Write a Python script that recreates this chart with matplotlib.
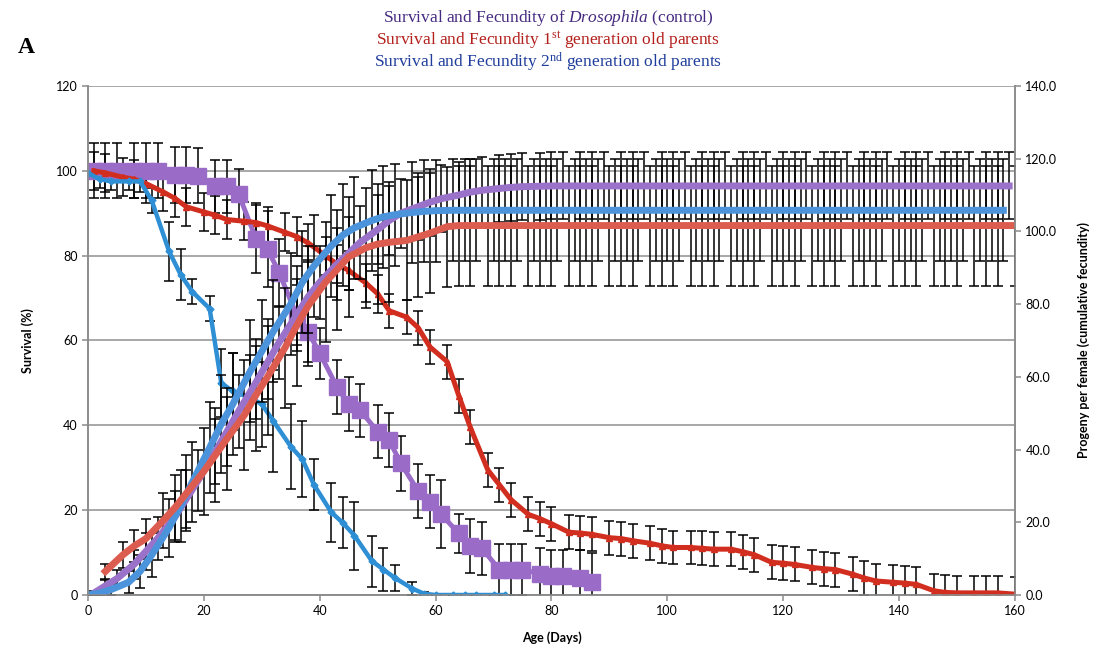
import numpy as np
import matplotlib
matplotlib.use('Agg')
import matplotlib.pyplot as plt

plt.rcParams['font.family'] = ['Lato', 'DejaVu Sans']
plt.rcParams['mathtext.fontset'] = 'custom'
plt.rcParams['mathtext.rm'] = 'Liberation Serif'
plt.rcParams['mathtext.it'] = 'Liberation Serif:italic'

# sampling days for each cohort (three checks per week)
control_days = [1, 3, 5, 8, 10, 12, 15, 17, 19, 22, 24, 26, 29, 31, 33, 36, 38, 40, 43, 45, 47,
                50, 52, 54, 57, 59, 61, 64, 66, 68, 71, 73, 75, 78, 80, 82, 85, 87, 89, 92, 94,
                96, 99, 101, 103, 106, 108, 110, 113, 115, 117, 120, 122, 124, 127, 129, 131,
                134, 136, 138, 141, 143, 145, 148, 150, 152, 155, 157, 159]
gen1_days = [1, 3, 6, 8, 10, 13, 15, 17, 20, 22, 24, 27, 29, 31, 34, 36, 38, 41, 43, 45, 48, 50,
             52, 55, 57, 59, 62, 64, 66, 69, 71, 73, 76, 78, 80, 83, 85, 87, 90, 92, 94, 97, 99,
             101, 104, 106, 108, 111, 113, 115, 118, 120, 122, 125, 127, 129, 132, 134, 136,
             139, 141, 143, 146, 148, 150, 153, 155, 157, 160]
gen2_days = [0, 2, 4, 7, 9, 11, 14, 16, 18, 21, 23, 25, 28, 30, 32, 35, 37, 39, 42, 44, 46, 49,
             51, 53, 56, 58, 60, 63, 65, 67, 70, 72, 74, 77, 79, 81, 84, 86, 88, 91, 93, 95, 98,
             100, 102, 105, 107, 109, 112, 114, 116, 119, 121, 123, 126, 128, 130, 133, 135,
             137, 140, 142, 144, 147, 149, 151, 154, 156, 158]

# survival (%), left axis
control_surv = [100, 100, 100, 100, 100, 100, 99, 99, 98.8, 96.3, 96.3, 94.5, 84, 81.5, 76, 66,
                62, 57, 49, 45, 43.5, 38.5, 36.5, 31, 24.5, 22, 19, 14.5, 11.5, 11, 6, 6, 6, 5,
                4.5, 4.5, 4, 3]
control_surv_err = [6.5, 6.5, 6.5, 6.5, 6.5, 6.5, 6.5, 6.5, 6.5, 6.3, 6.3, 6, 8, 9, 8, 7, 7, 6,
                    6.3, 6.3, 6.3, 6.3, 6.3, 6.5, 6.3, 6.3, 8, 4.5, 6.3, 6.3, 6, 6, 6, 6, 6, 6,
                    6.5, 7]
gen1_surv = [100, 99.5, 98.5, 98, 97, 95, 93.5, 91.5, 90.3, 89.5, 88.5, 88.1, 87.8, 87, 85.5,
             84.5, 83, 80, 78, 76.5, 73.5, 71, 67, 65.5, 63, 58.5, 55, 47, 39.5, 29.5, 26, 22.5,
             19, 18, 16.8, 14.8, 14.6, 14.3, 13.5, 13.3, 12.8, 12.2, 11.6, 11.2, 11.2, 11, 10.8,
             10.8, 10.2, 9.5, 7.7, 7.5, 7.2, 6.5, 6.2, 6, 4.9, 4, 3.3, 3, 2.8, 2.5, 1, 0.6, 0.5,
             0.5, 0.5, 0.5, 0.2]
gen1_surv_err = [4.5, 4.5, 4.5, 4.5, 4.5, 4.5, 4.5, 4.5, 4.5, 4.5, 4.5, 4.5, 4.5, 4.5, 4.5, 4.5,
                 4.5, 4.5, 4.5, 4.5, 4.5, 4.5, 4, 4, 4, 4, 4, 4, 4, 4, 4, 4, 4, 4, 4, 4, 4, 4, 4,
                 4, 4, 4, 4, 4, 4, 4, 4, 4, 4, 4, 4, 4, 4, 4, 4, 4, 4, 4, 4, 4, 4, 4, 4, 4, 4, 4,
                 4, 4, 4]
gen2_surv = [99.5, 98, 97.5, 97.5, 97.5, 93, 81, 75.5, 71.5, 67.5, 50, 48, 46.5, 45, 41, 35, 32,
             26, 19.5, 17, 14, 8, 6, 4, 1.5, 0.3, 0, 0, 0, 0, 0, 0]
gen2_surv_err = [1.5, 2, 2, 2, 2.5, 3, 7, 6, 3, 3, 8, 9, 10, 10, 12, 10, 9, 6, 7, 6, 8, 6, 5, 3,
                 1.5, 0.5, 0, 0, 0, 0, 0, 0]

# cumulative progeny per female, right axis
control_fec = [0.5, 2.5, 4.5, 8.5, 12, 15.5, 21.5, 26.5, 31.5, 39.5, 45, 50.5, 58.5, 64, 69.5,
               77, 82, 86, 91, 94, 97, 100.5, 103, 105, 106.8, 108, 109, 110, 110.8,
               111.3, 111.8, 112.1, 112.3, 112.4, 112.5, 112.5, 112.5, 112.5, 112.5, 112.5,
               112.5, 112.5, 112.5, 112.5, 112.5, 112.5, 112.5, 112.5, 112.5, 112.5, 112.5,
               112.5, 112.5, 112.5, 112.5, 112.5, 112.5, 112.5, 112.5, 112.5, 112.5, 112.5,
               112.5, 112.5, 112.5, 112.5, 112.5, 112.5, 112.5]
control_fec_err = [0.5, 1.5, 2.5, 4, 5, 6, 7, 8, 8.5, 9, 9.5, 10, 10, 10, 10, 10, 10, 10, 10, 10,
                   10, 9.5, 9.5, 9.5, 9.2, 9.2, 9.2, 9.2, 9.2, 9.2, 9.2, 9.2, 9.2, 9.2, 9.2, 9.2,
                   9.2, 9.2, 9.2, 9.2, 9.2, 9.2, 9.2, 9.2, 9.2, 9.2, 9.2, 9.2, 9.2, 9.2, 9.2,
                   9.2, 9.2, 9.2, 9.2, 9.2, 9.2, 9.2, 9.2, 9.2, 9.2, 9.2, 9.2, 9.2, 9.2, 9.2,
                   9.2, 9.2, 9.2]
gen1_fec = [np.nan, 6.5, 11, 13.5, 15.5, 20.5, 24, 28, 34, 38.5, 43, 49.5, 55, 60, 68, 74, 79.5,
            86, 89.5, 93, 95.5, 96.5, 97, 97.5, 98.5, 99.5, 101.3, 101.6, 101.6, 101.6, 101.6,
            101.6, 101.6, 101.6, 101.6, 101.6, 101.6, 101.6, 101.6, 101.6, 101.6, 101.6, 101.6,
            101.6, 101.6, 101.6, 101.6, 101.6, 101.6, 101.6, 101.6, 101.6, 101.6, 101.6, 101.6,
            101.6, 101.6, 101.6, 101.6, 101.6, 101.6, 101.6, 101.6, 101.6, 101.6, 101.6, 101.6,
            101.6, 101.6]
gen1_fec_err = [np.nan, 2, 3.5, 4.5, 5.5, 7.5, 9, 10.5, 12, 13, 14, 15, 15.5, 16, 16.5, 16.5,
                16.5, 16.5, 16.5, 16.5, 16.5, 16.5, 16.5, 16.5, 16.5, 16.5, 16.5, 16.5, 16.5,
                16.5, 16.5, 16.5, 16.5, 16.5, 16.5, 16.5, 16.5, 16.5, 16.5, 16.5, 16.5, 16.5,
                16.5, 16.5, 16.5, 16.5, 16.5, 16.5, 16.5, 16.5, 16.5, 16.5, 16.5, 16.5, 16.5,
                16.5, 16.5, 16.5, 16.5, 16.5, 16.5, 16.5, 16.5, 16.5, 16.5, 16.5, 16.5, 16.5,
                16.5]
gen2_fec = [0, 0.5, 1.5, 3.5, 6.5, 11, 18.5, 24.5, 31, 40.5, 47, 52.5, 61.5, 67, 72.5, 80, 86,
            90.5, 96, 99, 101, 103, 104, 104.6, 105.2, 105.5, 105.7, 105.8, 105.8, 105.8, 105.8,
            105.8, 105.8, 105.8, 105.8, 105.8, 105.8, 105.8, 105.8, 105.8, 105.8, 105.8, 105.8,
            105.8, 105.8, 105.8, 105.8, 105.8, 105.8, 105.8, 105.8, 105.8, 105.8, 105.8, 105.8,
            105.8, 105.8, 105.8, 105.8, 105.8, 105.8, 105.8, 105.8, 105.8, 105.8, 105.8, 105.8,
            105.8, 105.8]
gen2_fec_err = [0, 0.5, 1.5, 3, 4.5, 6, 8, 10, 11, 12.5, 13.5, 14, 14, 14, 14, 14, 14, 14, 14, 14,
                14, 14, 14, 14, 14, 14, 14, 14, 14, 14, 14, 14, 14, 14, 14, 14, 14, 14, 14, 14,
                14, 14, 14, 14, 14, 14, 14, 14, 14, 14, 14, 14, 14, 14, 14, 14, 14, 14, 14, 14,
                14, 14, 14, 14, 14, 14, 14, 14, 14]

purple_fec, blue_fec, red_fec = '#9a72c9', '#4b93db', '#dc5d50'
purple, blue, red = '#9a6cc8', '#2f8fd5', '#d22e20'

fig = plt.figure(figsize=(10.97, 6.56), dpi=100)
ax = fig.add_axes([0.0802, 0.093, 0.845, 0.776])
ax2 = ax.twinx()

eb = dict(ecolor='black', elinewidth=1.1, capsize=3.6, capthick=1.1)

# survival curves
ax.errorbar(control_days[:len(control_surv)], control_surv, yerr=control_surv_err,
            color=purple, lw=3.5, marker='s', ms=11, mec=purple, zorder=3, **eb)
ax.errorbar(gen1_days, gen1_surv, yerr=gen1_surv_err, color=red, lw=3.6,
            marker='^', ms=4, zorder=3, **eb)
ax.errorbar(gen2_days[:len(gen2_surv)], gen2_surv, yerr=gen2_surv_err, color=blue, lw=3.2,
            marker='D', ms=3.5, zorder=3, **eb)

# cumulative fecundity
ax2.errorbar(control_days, control_fec, yerr=control_fec_err, color=purple_fec, lw=5, **eb)
ax2.errorbar(gen2_days, gen2_fec, yerr=gen2_fec_err, color=blue_fec, lw=5, **eb)
ax2.errorbar(gen1_days, gen1_fec, yerr=gen1_fec_err, color=red_fec, lw=5, **eb)

ax.set_xlim(0, 160)
ax.set_ylim(0, 120)
ax2.set_ylim(0, 140)
ax.set_xticks(range(0, 161, 20))
ax.set_yticks(range(0, 121, 20))
ax2.set_yticks(range(0, 141, 20))
ax2.set_yticklabels([f'{v:.1f}' for v in range(0, 141, 20)])

ax.yaxis.grid(True, color='#a0a0a0', lw=1.3)
ax.set_axisbelow(True)
for a in (ax, ax2):
    for s in ('left', 'right', 'bottom'):
        a.spines[s].set_color('#8c8c8c')
        a.spines[s].set_linewidth(1.2)
    a.spines['top'].set_visible(False)
    a.tick_params(colors='#8c8c8c', length=4, width=1.1, labelsize=9, labelcolor='black')

ax.set_ylabel('Survival (%)', fontsize=9, fontweight='bold', labelpad=16)
ax2.set_ylabel('Progeny per female (cumulative fecundity)', fontsize=9, fontweight='bold',
               labelpad=14)
ax.set_xlabel('Age (Days)', fontsize=9, fontweight='bold', labelpad=10)

serif = 'Liberation Serif'
fig.text(0.4995, 0.972, r'Survival and Fecundity of $\mathit{Drosophila}$ (control)',
         ha='center', va='center', fontsize=12.5, family=serif, color='#452a80')
fig.text(0.4995, 0.939, r'Survival and Fecundity 1$^{\rm st}$ generation old parents',
         ha='center', va='center', fontsize=12.5, family=serif, color='#b3201c')
fig.text(0.4995, 0.905, r'Survival and Fecundity 2$^{\rm nd}$ generation old parents',
         ha='center', va='center', fontsize=12.5, family=serif, color='#1f3d9c')
fig.text(0.016, 0.927, 'A', fontsize=17, fontweight='bold', family=serif, va='center')

fig.savefig('out.png', dpi=100)
